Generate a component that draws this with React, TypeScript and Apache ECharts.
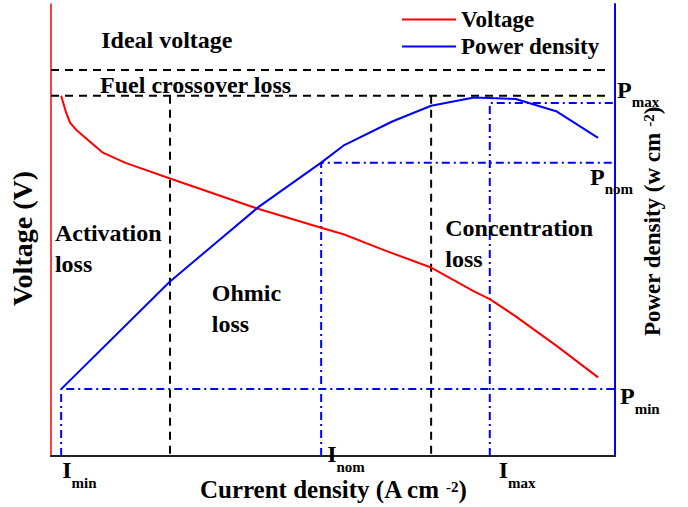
import React, { useEffect, useRef } from "react";
import * as echarts from "echarts";

const FONT = "'Times New Roman', 'Liberation Serif', serif";

// Current density (arbitrary units, 0..100) and voltage (0..100)
const voltageX = [1.8, 2.7, 3.4, 4.6, 9.2, 13.1, 21.1, 36.7, 47.9, 52.0, 58.7, 67.4, 75.0, 77.8, 82.4, 89.7, 97.0];
const voltageY = [79.7, 75.9, 73.7, 72.0, 67.1, 64.9, 61.4, 54.7, 50.5, 49.0, 45.7, 41.7, 36.4, 34.7, 30.9, 24.3, 17.4];

// Power density curve
const powerX = [1.8, 21.1, 36.7, 47.9, 52.0, 60.5, 67.4, 75.0, 82.4, 89.7, 97.0];
const powerY = [14.8, 38.6, 55.0, 64.9, 68.8, 74.0, 77.5, 79.3, 79.0, 76.2, 70.4];

// Operating points
const I_MIN = 1.8;
const I_NOM = 47.9;
const I_MAX = 77.8;
const P_MIN = 14.8;
const P_NOM = 64.9;
const P_MAX = 78.1;

// Loss region boundaries
const IDEAL_V = 85.4;
const CROSSOVER_V = 79.7;
const ACTIVATION_END = 21.1;
const CONCENTRATION_START = 67.4;
const DASH_END = 98.6;
const AXIS_MAX = 100;

const regionNames = ["Ideal voltage", "Fuel crossover loss", "Activation\nloss", "Ohmic\nloss", "Concentration\nloss"];
const regionX = [8.9, 8.7, 0.7, 28.5, 69.9];
const regionY = [92.1, 82.1, 45.8, 32.6, 47.1];

const markerMain = ["P", "P", "P", "I", "I", "I"];
const markerSub = ["max", "nom", "min", "min", "nom", "max"];
const markerX = [AXIS_MAX, AXIS_MAX, AXIS_MAX, I_MIN, I_NOM, I_MAX];
const markerY = [P_MAX, P_NOM, P_MIN, 0, 0, 0];
const markerOffsets = [[2, -25], [-25, 2], [5, -5], [1, 2], [6, -14], [9, 2]];

const BLACK_DASH = [8, 6];
const BLUE_DASHDOT = [8, 4, 2, 4];

function refLine(data: number[][], color: string, type: number[]) {
  return {
    type: "line",
    data,
    symbol: "none",
    silent: true,
    clip: false,
    lineStyle: { color, width: 2, type },
    z: 1,
  };
}

export default function App() {
  const ref = useRef<HTMLDivElement>(null);
  useEffect(() => {
    document.body.style.margin = "0";
    const chart = echarts.init(ref.current!, null, { renderer: "svg" });
    const bold = { fontFamily: FONT, fontWeight: "bold" as const, color: "#000" };
    const subRich = {
      m: { ...bold, fontSize: 24, lineHeight: 24, verticalAlign: "top" },
      s: { ...bold, fontSize: 15, lineHeight: 32, verticalAlign: "bottom" },
    };
    const supRich = {
      sup: { ...bold, fontSize: 15, lineHeight: 15, verticalAlign: "top" },
    };
    const option: any = {
      animation: false,
      grid: { left: 51, right: 73, top: 4, bottom: 50, containLabel: false },
      legend: {
        data: ["Voltage", "Power density"],
        orient: "vertical",
        left: 402,
        top: 6,
        padding: 0,
        itemGap: 0,
        itemWidth: 54,
        itemHeight: 2,
        icon: "rect",
        selectedMode: false,
        textStyle: { ...bold, fontSize: 23, lineHeight: 27 },
      },
      xAxis: [
        {
          type: "value",
          min: 0,
          max: AXIS_MAX,
          position: "bottom",
          name: "Current density (A cm {sup|-2})",
          nameLocation: "middle",
          nameGap: 23,
          nameTextStyle: { ...bold, fontSize: 25, lineHeight: 21, rich: supRich },
          axisLine: { show: true, lineStyle: { color: "#222", width: 2 } },
          axisTick: { show: false },
          axisLabel: { show: false },
          splitLine: { show: false },
        },
        {
          type: "value",
          min: 0,
          max: AXIS_MAX,
          position: "top",
          axisLine: { show: true, lineStyle: { color: "#222", width: 2 } },
          axisTick: { show: false },
          axisLabel: { show: false },
          splitLine: { show: false },
        },
      ],
      yAxis: [
        {
          type: "value",
          min: 0,
          max: AXIS_MAX,
          position: "left",
          name: "Voltage (V)",
          nameLocation: "middle",
          nameRotate: 90,
          nameGap: 15,
          nameTextStyle: { ...bold, fontSize: 28, lineHeight: 28, padding: [0, 17, 0, 0] },
          axisLine: { show: true, onZero: false, lineStyle: { color: "#ff0000", width: 1.5 } },
          axisTick: { show: false },
          axisLabel: { show: false },
          splitLine: { show: false },
        },
        {
          type: "value",
          min: 0,
          max: AXIS_MAX,
          position: "right",
          name: "Power density (w cm {sup|-2})",
          nameLocation: "middle",
          nameRotate: 90,
          nameGap: 26,
          nameTextStyle: { ...bold, fontSize: 23, lineHeight: 23, padding: [0, 0, 0, 17], rich: supRich },
          axisLine: { show: true, onZero: false, lineStyle: { color: "#0000ff", width: 2 } },
          axisTick: { show: false },
          axisLabel: { show: false },
          splitLine: { show: false },
        },
      ],
      series: [
        refLine([[0, IDEAL_V], [DASH_END, IDEAL_V]], "#000", BLACK_DASH),
        refLine([[0, CROSSOVER_V], [DASH_END, CROSSOVER_V]], "#000", BLACK_DASH),
        refLine([[ACTIVATION_END, CROSSOVER_V], [ACTIVATION_END, 0]], "#000", BLACK_DASH),
        refLine([[CONCENTRATION_START, CROSSOVER_V], [CONCENTRATION_START, 0]], "#000", BLACK_DASH),
        refLine([[I_MIN, 0], [I_MIN, P_MIN], [AXIS_MAX, P_MIN]], "#0000ff", BLUE_DASHDOT),
        refLine([[I_NOM, 0], [I_NOM, P_NOM], [AXIS_MAX, P_NOM]], "#0000ff", BLUE_DASHDOT),
        refLine([[I_MAX, 0], [I_MAX, P_MAX], [AXIS_MAX, P_MAX]], "#0000ff", BLUE_DASHDOT),
        {
          name: "Voltage",
          type: "line",
          yAxisIndex: 0,
          data: voltageX.map((x, i) => [x, voltageY[i]]),
          symbol: "none",
          color: "#ff0000",
          lineStyle: { color: "#ff0000", width: 2 },
          z: 3,
        },
        {
          name: "Power density",
          type: "line",
          yAxisIndex: 1,
          data: powerX.map((x, i) => [x, powerY[i]]),
          symbol: "none",
          color: "#0000ff",
          lineStyle: { color: "#0000ff", width: 2 },
          z: 3,
        },
        {
          type: "scatter",
          symbolSize: 0,
          silent: true,
          clip: false,
          z: 5,
          itemStyle: { opacity: 1 },
          data: regionNames.map((n, i) => ({ name: n, value: [regionX[i], regionY[i]] })),
          label: {
            show: true,
            position: "right",
            distance: 0,
            formatter: "{b}",
            ...bold,
            fontSize: 24,
            lineHeight: 31,
            align: "left",
            verticalAlign: "middle",
          },
        },
        {
          type: "scatter",
          yAxisIndex: 1,
          symbolSize: 0,
          silent: true,
          clip: false,
          z: 5,
          itemStyle: { opacity: 1 },
          data: markerMain.map((m, i) => ({
            name: m,
            value: [markerX[i], markerY[i]],
            label: {
              show: true,
              position: [0, 0],
              offset: markerOffsets[i],
              align: "left",
              verticalAlign: "top",
              formatter: `{m|${m}}{s|${markerSub[i]}}`,
              rich: subRich,
            },
          })),
        },
      ],
    };
    chart.setOption(option);
    return () => chart.dispose();
  }, []);
  return <div ref={ref} style={{ width: 688, height: 507 }} />;
}
